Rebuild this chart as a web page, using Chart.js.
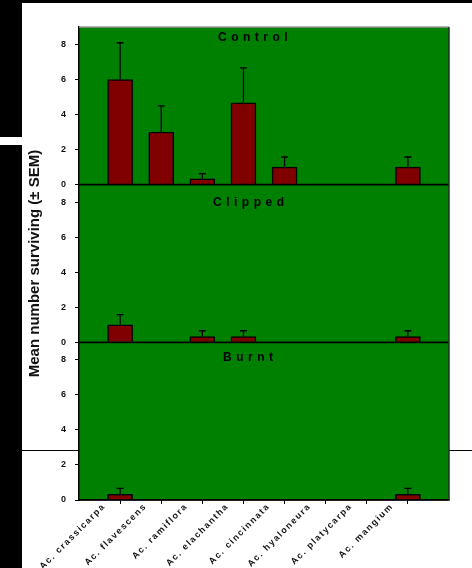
<!DOCTYPE html>
<html>
<head>
<meta charset="utf-8">
<script src="https://cdn.jsdelivr.net/npm/chart.js@4.4.1/dist/chart.umd.min.js"></script>
<style>
    html, body { margin: 0; padding: 0; background: #fff; }
    #wrap { position: relative; width: 472px; height: 568px; overflow: hidden; }
    .blk { position: absolute; background: #000; }
    canvas { position: absolute; left: 0; top: 0; }
</style>
</head>
<body>
<div id="wrap">
    <div class="blk" style="left:0;top:0;width:472px;height:3px"></div>
    <div class="blk" style="left:0;top:0;width:22px;height:137px"></div>
    <div class="blk" style="left:0;top:145px;width:22px;height:423px"></div>
    <div class="blk" style="left:22px;top:450px;width:450px;height:1px"></div>
    <canvas id="chart" width="472" height="568"></canvas>
</div>
<script>
// ------------------------------------------------------- //
// Data
// ------------------------------------------------------ //
var species = ['Ac. crassicarpa', 'Ac. flavescens', 'Ac. ramiflora', 'Ac. elachantha',
               'Ac. cincinnata', 'Ac. hyaloneura', 'Ac. platycarpa', 'Ac. mangium'];
var controlMean = [6.0, 3.0, 0.33, 4.67, 1.0, 0, 0, 1.0];
var controlSem  = [2.1, 1.5, 0.3, 2.0, 0.58, 0, 0, 0.58];
var clippedMean = [1.0, 0, 0.33, 0.33, 0, 0, 0, 0.33];
var clippedSem  = [0.58, 0, 0.33, 0.33, 0, 0, 0, 0.33];
var burntMean   = [0.33, 0, 0, 0, 0, 0, 0, 0.33];
var burntSem    = [0.33, 0, 0, 0, 0, 0, 0, 0.33];
var panelTitles = ['Control', 'Clipped', 'Burnt'];
var yTicks = [0, 2, 4, 6, 8];
var yMax = 9;
var yTitle = 'Mean number surviving (\u00B1 SEM)';

var FONT = '"Liberation Sans", Arial, sans-serif';
var axisIds = ['yC', 'yK', 'yB'];
var means = [controlMean, clippedMean, burntMean];
var sems = [controlSem, clippedSem, burntSem];

function toPoints(arr) {
    return arr.map(function (v, i) { return { x: i, y: v }; });
}

function panelAxis(weight) {
    return {
        type: 'linear',
        position: 'left',
        stack: 'panels',
        stackWeight: 1,
        weight: weight,
        min: 0,
        max: yMax,
        ticks: {
            stepSize: 1,
            padding: 9,
            color: '#111',
            font: { family: FONT, size: 9, weight: 'bold' },
            callback: function (v) { return yTicks.indexOf(v) >= 0 ? String(v) : ''; }
        },
        grid: {
            drawOnChartArea: false,
            drawTicks: true,
            tickLength: 4,
            tickWidth: 1,
            tickColor: function (c) {
                return c.tick && yTicks.indexOf(c.tick.value) >= 0 ? '#000' : 'rgba(0,0,0,0)';
            }
        },
        border: { color: '#000', width: 1.5 },
        afterFit: function (s) { s.width = 79; }
    };
}

// ------------------------------------------------------- //
// Panels: background, baselines, error bars, text
// ------------------------------------------------------ //
var titleDx = [139, 134, 144];
var titleDy = [14, 21, 19];

var panelPlugin = {
    id: 'panels',
    beforeDraw: function (chart) {
        var a = chart.chartArea, ctx = chart.ctx;
        ctx.save();
        ctx.fillStyle = '#008000';
        ctx.fillRect(a.left, a.top, a.right - a.left, a.bottom - a.top);
        ctx.restore();
    },
    afterDatasetsDraw: function (chart) {
        var a = chart.chartArea, ctx = chart.ctx, xs = chart.scales.x;
        ctx.save();

        // error bars
        ctx.strokeStyle = '#000';
        ctx.lineWidth = 1.3;
        sems.forEach(function (sem, d) {
            var ys = chart.scales[axisIds[d]];
            sem.forEach(function (e, i) {
                if (!e) return;
                var x = xs.getPixelForValue(i);
                var y0 = ys.getPixelForValue(means[d][i]);
                var y1 = ys.getPixelForValue(means[d][i] + e);
                ctx.beginPath();
                ctx.moveTo(x, y0);
                ctx.lineTo(x, y1);
                ctx.moveTo(x - 3.5, y1);
                ctx.lineTo(x + 3.5, y1);
                ctx.stroke();
            });
        });

        // zero lines
        ctx.lineWidth = 1.6;
        axisIds.forEach(function (id) {
            var y = chart.scales[id].getPixelForValue(0);
            ctx.beginPath();
            ctx.moveTo(a.left, y);
            ctx.lineTo(a.right, y);
            ctx.stroke();
        });

        // frame top / right
        ctx.strokeStyle = '#9a9a9a';
        ctx.lineWidth = 1.5;
        ctx.beginPath();
        ctx.moveTo(a.left, a.top);
        ctx.lineTo(a.right, a.top);
        ctx.stroke();
        ctx.strokeStyle = '#1c331c';
        ctx.beginPath();
        ctx.moveTo(a.right, a.top);
        ctx.lineTo(a.right, a.bottom);
        ctx.stroke();

        // panel titles
        ctx.fillStyle = '#000';
        ctx.font = 'bold 12px ' + FONT;
        ctx.letterSpacing = '4.5px';
        ctx.textAlign = 'left';
        ctx.textBaseline = 'alphabetic';
        panelTitles.forEach(function (t, d) {
            var ys = chart.scales[axisIds[d]];
            ctx.fillText(t, a.left + titleDx[d], ys.top + titleDy[d]);
        });
        ctx.restore();
    },
    afterDraw: function (chart) {
        var a = chart.chartArea, ctx = chart.ctx, xs = chart.scales.x;
        ctx.save();
        ctx.fillStyle = '#111';

        // species labels
        ctx.font = 'bold 9px ' + FONT;
        ctx.letterSpacing = '1.5px';
        ctx.textAlign = 'right';
        ctx.textBaseline = 'middle';
        species.forEach(function (s, i) {
            var x = xs.getPixelForValue(i);
            ctx.save();
            ctx.translate(x - 16, a.bottom + 5);
            ctx.rotate(-Math.PI / 4);
            ctx.fillText(s, 0, 0);
            ctx.restore();
        });

        // y title
        ctx.letterSpacing = '0px';
        ctx.font = 'bold 15px ' + FONT;
        ctx.textAlign = 'center';
        ctx.textBaseline = 'alphabetic';
        ctx.translate(39, (a.top + a.bottom) / 2);
        ctx.rotate(-Math.PI / 2);
        ctx.fillText(yTitle, 0, 0);
        ctx.restore();
    }
};

var barStyle = {
    backgroundColor: '#800000',
    borderColor: '#000',
    borderWidth: 1.5,
    barThickness: 25,
    grouped: false
};

var ctx = document.getElementById('chart').getContext('2d');
var chart = new Chart(ctx, {
    type: 'bar',
    data: {
        datasets: [
            Object.assign({ label: panelTitles[0], data: toPoints(controlMean), yAxisID: 'yC' }, barStyle),
            Object.assign({ label: panelTitles[1], data: toPoints(clippedMean), yAxisID: 'yK' }, barStyle),
            Object.assign({ label: panelTitles[2], data: toPoints(burntMean), yAxisID: 'yB' }, barStyle)
        ]
    },
    options: {
        responsive: false,
        devicePixelRatio: 1,
        animation: false,
        layout: { padding: { left: 0, top: 27, right: 23, bottom: 0 } },
        plugins: { legend: { display: false }, tooltip: { enabled: false } },
        scales: {
            x: {
                type: 'linear',
                offset: false,
                min: -1,
                max: species.length,
                ticks: { stepSize: 1, display: false },
                grid: {
                    offset: false,
                    drawOnChartArea: false,
                    drawTicks: true,
                    tickLength: 4,
                    tickColor: function (c) {
                        return c.tick && c.tick.value >= 0 && c.tick.value < species.length ? '#000' : 'rgba(0,0,0,0)';
                    }
                },
                border: { color: '#000', width: 1.5 },
                afterFit: function (s) { s.height = 68; }
            },
            yC: panelAxis(3),
            yK: panelAxis(2),
            yB: panelAxis(1)
        }
    },
    plugins: [panelPlugin]
});
</script>
</body>
</html>
